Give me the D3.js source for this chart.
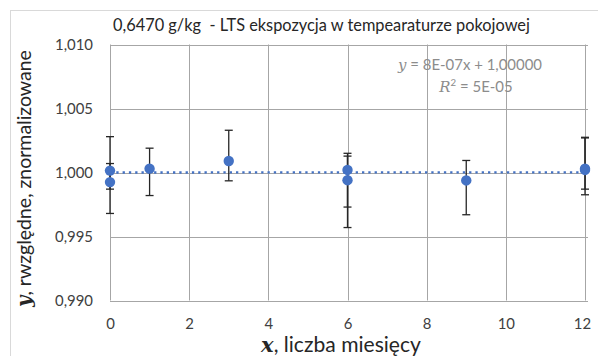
<!DOCTYPE html>
<html>
<head>
<meta charset="utf-8">
<script src="https://cdn.jsdelivr.net/npm/d3@7"></script>
<style>
  html, body { margin: 0; padding: 0; background: #fff; }
  svg { display: block; }
</style>
</head>
<body>
<svg id="chart" width="598" height="356"></svg>
<script>
// ---- data ----
const titleText = "0,6470 g/kg  - LTS ekspozycja w tempearaturze pokojowej";
const months   = [0, 0, 1, 3, 6, 6, 9, 12, 12];
const values   = [1.00015, 0.99925, 1.0003, 1.0009, 1.0002, 0.9994, 0.99938, 1.0002, 1.0003];
const errHigh  = [1.0028, 1.0007, 1.0019, 1.0033, 1.0015, 1.00128, 1.00094, 1.0027, 1.00275];
const errLow   = [0.9987, 0.9968, 0.9982, 0.99935, 0.9973, 0.9957, 0.9967, 0.9987, 0.99826];
const xTicks   = [0, 2, 4, 6, 8, 10, 12];
const yTicks   = [0.990, 0.995, 1.000, 1.005, 1.010];
const trendSlope = 8e-7;
const trendIntercept = 1.00000;
const trendRange = [0, 12];

// ---- layout ----
const svg = d3.select("#chart");
const font = "Lato, 'Open Sans', sans-serif";
const serif = "'DejaVu Serif', 'Liberation Serif', serif";
const blue = "#4472C4";
const gridColor = "#a6a6a6";

const x = d3.scaleLinear().domain([0, 12]).range([110, 585]);
const y = d3.scaleLinear().domain([0.990, 1.010]).range([300.5, 44.5]);
const plotRight = 588;

// scale a text element's font-size so that it spans the target width
function fit(sel, target) {
  const node = sel.node();
  const w = node.getComputedTextLength ? node.getComputedTextLength() : node.getBBox().width;
  const fs = parseFloat(sel.attr("font-size"));
  const k = target / w;
  sel.attr("font-size", fs * k);
  sel.selectAll("tspan").each(function () {
    const t = d3.select(this);
    const f = t.attr("font-size");
    if (f) t.attr("font-size", parseFloat(f) * k);
    const dy = t.attr("dy");
    if (dy) t.attr("dy", parseFloat(dy) * k);
  });
  return fs * k;
}

// chart border
svg.append("rect").attr("x", 10.5).attr("y", 10.5).attr("width", 600).attr("height", 360)
  .attr("fill", "none").attr("stroke", "#d9d9d9").attr("stroke-width", 1);

// grid
const g = svg.append("g");
g.selectAll("line.hg").data(yTicks).join("line")
  .attr("x1", x(0)).attr("x2", plotRight)
  .attr("y1", d => Math.round(y(d)) + 0.5).attr("y2", d => Math.round(y(d)) + 0.5)
  .attr("stroke", gridColor).attr("stroke-width", 1);
g.selectAll("line.vg").data(xTicks).join("line")
  .attr("x1", d => Math.round(x(d)) + 0.5).attr("x2", d => Math.round(x(d)) + 0.5)
  .attr("y1", y(1.010)).attr("y2", y(0.990))
  .attr("stroke", gridColor).attr("stroke-width", 1);

// axes
const loc = d3.formatLocale({decimal: ",", thousands: " ", grouping: [3], currency: ["", ""]});
const yAxis = d3.axisLeft(y).tickValues(yTicks).tickFormat(loc.format(".3f")).tickSize(0).tickPadding(0);
const ya = svg.append("g").attr("transform", "translate(93,0)").call(yAxis);
ya.select(".domain").remove();
ya.selectAll("text").attr("font-family", font).attr("font-size", 15).attr("fill", "#404040");
const probe = ya.select("text");
const tickFs = 15 * 38 / probe.node().getComputedTextLength();
ya.selectAll("text").attr("font-size", tickFs);

const xAxis = d3.axisBottom(x).tickValues(xTicks).tickFormat(d3.format("d")).tickSize(0).tickPadding(0);
const xa = svg.append("g").attr("transform", "translate(0,318)").call(xAxis);
xa.select(".domain").remove();
xa.selectAll("text").attr("font-family", font).attr("font-size", tickFs).attr("fill", "#404040")
  .attr("dx", d => d === 12 ? -3 : 0);

// trendline
const trend = trendRange.map(t => [t, trendSlope * t + trendIntercept]);
svg.append("path")
  .attr("d", d3.line().x(d => x(d[0])).y(d => y(d[1]))(trend))
  .attr("stroke", blue).attr("stroke-width", 2.3).attr("fill", "none")
  .attr("stroke-dasharray", "2.3 4");

// error bars
const pts = months.map((m, i) => ({m, v: values[i], hi: errHigh[i], lo: errLow[i]}));
const eb = svg.append("g").attr("stroke", "#262626").attr("stroke-width", 1.3);
pts.forEach(p => {
  const cx = x(p.m);
  eb.append("line").attr("x1", cx).attr("x2", cx).attr("y1", y(p.hi)).attr("y2", y(p.lo));
  eb.append("line").attr("x1", cx - 4).attr("x2", cx + 4).attr("y1", y(p.hi)).attr("y2", y(p.hi));
  eb.append("line").attr("x1", cx - 4).attr("x2", cx + 4).attr("y1", y(p.lo)).attr("y2", y(p.lo));
});

// markers
svg.append("g").selectAll("circle").data(pts).join("circle")
  .attr("cx", d => x(d.m)).attr("cy", d => y(d.v)).attr("r", 5.2).attr("fill", blue);

// title
const title = svg.append("text").attr("x", 321.5).attr("y", 31).attr("text-anchor", "middle")
  .attr("font-family", font).attr("font-size", 14.5).attr("fill", "#262626")
  .style("white-space", "pre").text(titleText);
fit(title, 417);

// equation
const eq = svg.append("text").attr("x", 470).attr("y", 69.5).attr("text-anchor", "middle")
  .attr("font-family", font).attr("font-size", 14).attr("fill", "#8c8c8c");
eq.append("tspan").attr("font-family", serif).attr("font-style", "italic").text("y");
eq.append("tspan").text(" = 8E-07x + 1,00000");
const eqFs = fit(eq, 144);
const r2 = svg.append("text").attr("x", 476).attr("y", 91.5).attr("text-anchor", "middle")
  .attr("font-family", font).attr("font-size", eqFs).attr("fill", "#8c8c8c");
r2.append("tspan").attr("font-family", serif).attr("font-style", "italic").text("R");
r2.append("tspan").attr("font-size", eqFs * 0.65).attr("dy", -eqFs * 0.38).text("2");
r2.append("tspan").attr("dy", eqFs * 0.38).text(" = 5E-05");

// axis titles
const xt = svg.append("text").attr("x", 341).attr("y", 352).attr("text-anchor", "middle")
  .attr("font-family", font).attr("font-size", 16).attr("fill", "#262626");
xt.append("tspan").attr("font-family", serif).attr("font-style", "italic").attr("font-weight", "bold").text("x");
xt.append("tspan").text(", liczba miesięcy");
fit(xt, 160);

const yt = svg.append("text").attr("transform", "translate(31,178.5) rotate(-90)").attr("text-anchor", "middle")
  .attr("font-family", font).attr("font-size", 16).attr("fill", "#262626");
yt.append("tspan").attr("font-family", serif).attr("font-style", "italic").attr("font-weight", "bold").text("y");
yt.append("tspan").text(", rwzględne, znormalizowane");
fit(yt, 257);
</script>
</body>
</html>
